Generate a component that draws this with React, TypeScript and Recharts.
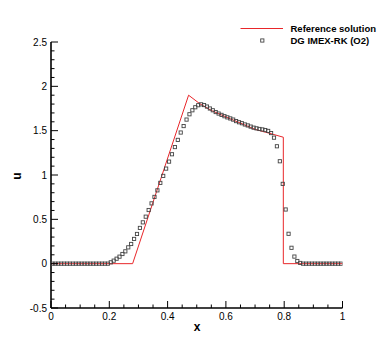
import React from "react";
import { ComposedChart, Line, Scatter, XAxis, YAxis } from "recharts";

// Reference solution (polyline)
const refX = [0, 0.28, 0.472, 0.51, 0.55, 0.6, 0.65, 0.7, 0.75, 0.797, 0.797, 1];
const refU = [0, 0, 1.9, 1.805, 1.728, 1.655, 1.585, 1.515, 1.47, 1.426, 0, 0];

// DG IMEX-RK (O2) cell values, cells centred at (i+0.5)/100
const dgU = [
  0, 0, 0, 0, 0, 0, 0, 0, 0, 0,
  0, 0, 0, 0, 0, 0, 0, 0, 0, 0,
  0.015, 0.034, 0.056, 0.079, 0.109, 0.139, 0.184, 0.222, 0.279, 0.335,
  0.403, 0.466, 0.53, 0.605, 0.68, 0.753, 0.827, 0.911, 0.99, 1.072,
  1.151, 1.234, 1.315, 1.396, 1.479, 1.552, 1.625, 1.685, 1.73, 1.764,
  1.787, 1.797, 1.789, 1.772, 1.75, 1.73, 1.71, 1.693, 1.678, 1.663,
  1.65, 1.638, 1.625, 1.608, 1.595, 1.584, 1.57, 1.559, 1.546, 1.534,
  1.526, 1.519, 1.514, 1.507, 1.497, 1.473, 1.421, 1.324, 1.155, 0.9,
  0.611, 0.337, 0.179, 0.08, 0.03, 0.008, 0, 0, 0, 0,
  0, 0, 0, 0, 0, 0, 0, 0, 0, 0,
];

const xTicks = [0, 0.05, 0.1, 0.15, 0.2, 0.25, 0.3, 0.35, 0.4, 0.45, 0.5, 0.55, 0.6, 0.65, 0.7, 0.75, 0.8, 0.85, 0.9, 0.95, 1];
const xMajor = [0, 0.2, 0.4, 0.6, 0.8, 1];
const yTicks = [
  -0.5, -0.4, -0.3, -0.2, -0.1, 0, 0.1, 0.2, 0.3, 0.4, 0.5, 0.6, 0.7, 0.8, 0.9, 1,
  1.1, 1.2, 1.3, 1.4, 1.5, 1.6, 1.7, 1.8, 1.9, 2, 2.1, 2.2, 2.3, 2.4, 2.5,
];
const yMajor = [-0.5, 0, 0.5, 1, 1.5, 2, 2.5];

const refData = refX.map((x, i) => ({ x, u: refU[i] }));
const dgData = dgU.map((u, i) => ({ x: (i + 0.5) / 100, u }));

const FONT = '"Liberation Sans", Arial, Helvetica, sans-serif';

const isMajor = (v: number, majors: number[]) => majors.some((m) => Math.abs(m - v) < 1e-9);

const YTick = (props: any) => {
  const { x, y, payload } = props;
  const major = isMajor(payload.value, yMajor);
  return (
    <g>
      <line x1={x} y1={y} x2={x + (major ? 7 : 3.5)} y2={y} stroke="#000" strokeWidth={1} />
      {major && (
        <text x={x - 4} y={y} dy="0.35em" textAnchor="end" fontSize={10} fontFamily={FONT} fill="#000">
          {String(payload.value)}
        </text>
      )}
    </g>
  );
};

const XTick = (props: any) => {
  const { x, y, payload } = props;
  const major = isMajor(payload.value, xMajor);
  return (
    <g>
      <line x1={x} y1={y} x2={x} y2={y - (major ? 7 : 3.5)} stroke="#000" strokeWidth={1} />
      {major && (
        <text x={x} y={y + 11.5} textAnchor="middle" fontSize={10} fontFamily={FONT} fill="#000">
          {String(payload.value)}
        </text>
      )}
    </g>
  );
};

const SquareMark = (props: any) => {
  const { cx, cy } = props;
  if (cx == null || cy == null) return null;
  return <rect x={cx - 1.6} y={cy - 1.6} width={3.2} height={3.2} fill="none" stroke="#444" strokeWidth={0.9} />;
};

export default function App() {
  return (
    <div style={{ position: "absolute", left: 0, top: 0, width: 390, height: 347, background: "#fff" }}>
      <ComposedChart
        width={390}
        height={347}
        margin={{ top: 42, right: 47.5, bottom: 9, left: 0 }}
      >
        <XAxis
          dataKey="x"
          type="number"
          domain={[0, 1]}
          ticks={xTicks}
          interval={0}
          tickLine={false}
          tickSize={0}
          tickMargin={0}
          tick={<XTick />}
          axisLine={{ stroke: "#000", strokeWidth: 1.6 }}
          height={30}
          allowDataOverflow
        />
        <YAxis
          dataKey="u"
          type="number"
          domain={[-0.5, 2.5]}
          ticks={yTicks}
          interval={0}
          tickLine={false}
          tickSize={0}
          tickMargin={0}
          tick={<YTick />}
          axisLine={{ stroke: "#000", strokeWidth: 1.6 }}
          width={51}
          allowDataOverflow
        />
        <Line
          data={refData}
          dataKey="u"
          type="linear"
          stroke="#e8262a"
          strokeWidth={1}
          dot={false}
          activeDot={false}
          isAnimationActive={false}
        />
        <Scatter data={dgData} dataKey="u" shape={<SquareMark />} isAnimationActive={false} />
      </ComposedChart>
      <svg
        width={390}
        height={347}
        style={{ position: "absolute", left: 0, top: 0, pointerEvents: "none" }}
      >
        <line x1={240.5} y1={28.5} x2={283} y2={28.5} stroke="#e8262a" strokeWidth={1} />
        <text x={290.5} y={28.5} dy="0.35em" fontSize={9.5} fontWeight="bold" fontFamily={FONT} fill="#000">
          Reference solution
        </text>
        <rect x={260.7} y={38.9} width={3.2} height={3.2} fill="none" stroke="#444" strokeWidth={0.9} />
        <text x={290.5} y={41} dy="0.35em" fontSize={9.5} fontWeight="bold" fontFamily={FONT} fill="#000">
          DG IMEX-RK (O2)
        </text>
        <text x={197} y={327} dy="0.35em" textAnchor="middle" fontSize={12} fontWeight="bold" fontFamily={FONT} fill="#000">
          x
        </text>
        <text
          x={17}
          y={176}
          dy="0.35em"
          textAnchor="middle"
          fontSize={12}
          fontWeight="bold"
          fontFamily={FONT}
          fill="#000"
          transform="rotate(-90 17 176)"
        >
          u
        </text>
      </svg>
    </div>
  );
}
